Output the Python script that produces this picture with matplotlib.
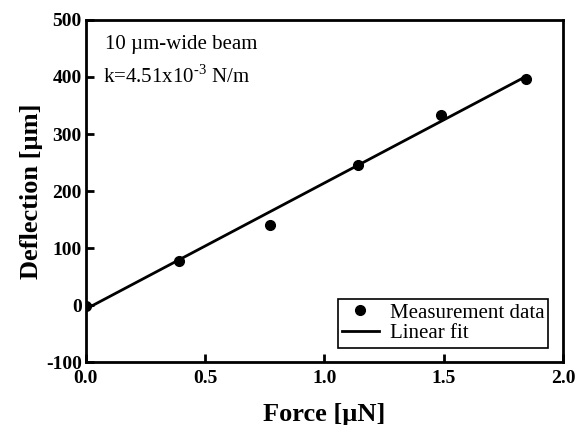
import matplotlib.pyplot as plt
import numpy as np

plt.rcParams['font.family'] = ['Liberation Serif', 'DejaVu Serif']
plt.rcParams['mathtext.fontset'] = 'custom'
plt.rcParams['mathtext.rm'] = 'Liberation Serif'
plt.rcParams['axes.unicode_minus'] = False

# Measured data
force = [0.0, 0.39, 0.77, 1.14, 1.49, 1.845]
deflection = [-2, 77, 140, 245, 333, 397]

# Linear fit endpoints
fit_x = [0.0, 1.845]
fit_y = [-7, 401]

fig = plt.figure(figsize=(5.84, 4.25), dpi=100)
ax = fig.add_axes([0.147, 0.148, 0.817, 0.805])

ax.plot(force, deflection, 'o', color='black', markersize=7, label='Measurement data', zorder=3)
ax.plot(fit_x, fit_y, '-', color='black', linewidth=2, label='Linear fit')

ax.set_xlim(0, 2.0)
ax.set_ylim(-100, 500)
ax.set_xticks([0.0, 0.5, 1.0, 1.5, 2.0])
ax.set_xticklabels(['0.0', '0.5', '1.0', '1.5', '2.0'])
ax.set_yticks([-100, 0, 100, 200, 300, 400, 500])

for s in ax.spines.values():
    s.set_linewidth(2)
ax.tick_params(direction='in', length=6, width=2, labelsize=14)
ax.tick_params(axis='x', pad=6)
ax.tick_params(axis='y', pad=3)
for lbl in ax.get_xticklabels() + ax.get_yticklabels():
    lbl.set_fontweight('bold')

ax.set_xlabel('Force [µN]', fontsize=19, fontweight='bold', labelpad=11)
ax.set_ylabel('Deflection [µm]', fontsize=19, fontweight='bold', labelpad=2)

ax.text(0.04, 0.927, '10 µm-wide beam', transform=ax.transAxes, fontsize=15, va='center')
ax.text(0.036, 0.836, r'k=4.51x10$^{\text{-}3}$ N/m', transform=ax.transAxes, fontsize=15, va='center')

leg = ax.legend(loc='lower right', fontsize=15, frameon=True, fancybox=False,
                edgecolor='black', framealpha=1, borderpad=0.2, handlelength=1.8,
                handletextpad=0.5, labelspacing=0.05, borderaxespad=0.7)
leg.get_frame().set_linewidth(1.2)

fig.savefig('out.png', dpi=100)
